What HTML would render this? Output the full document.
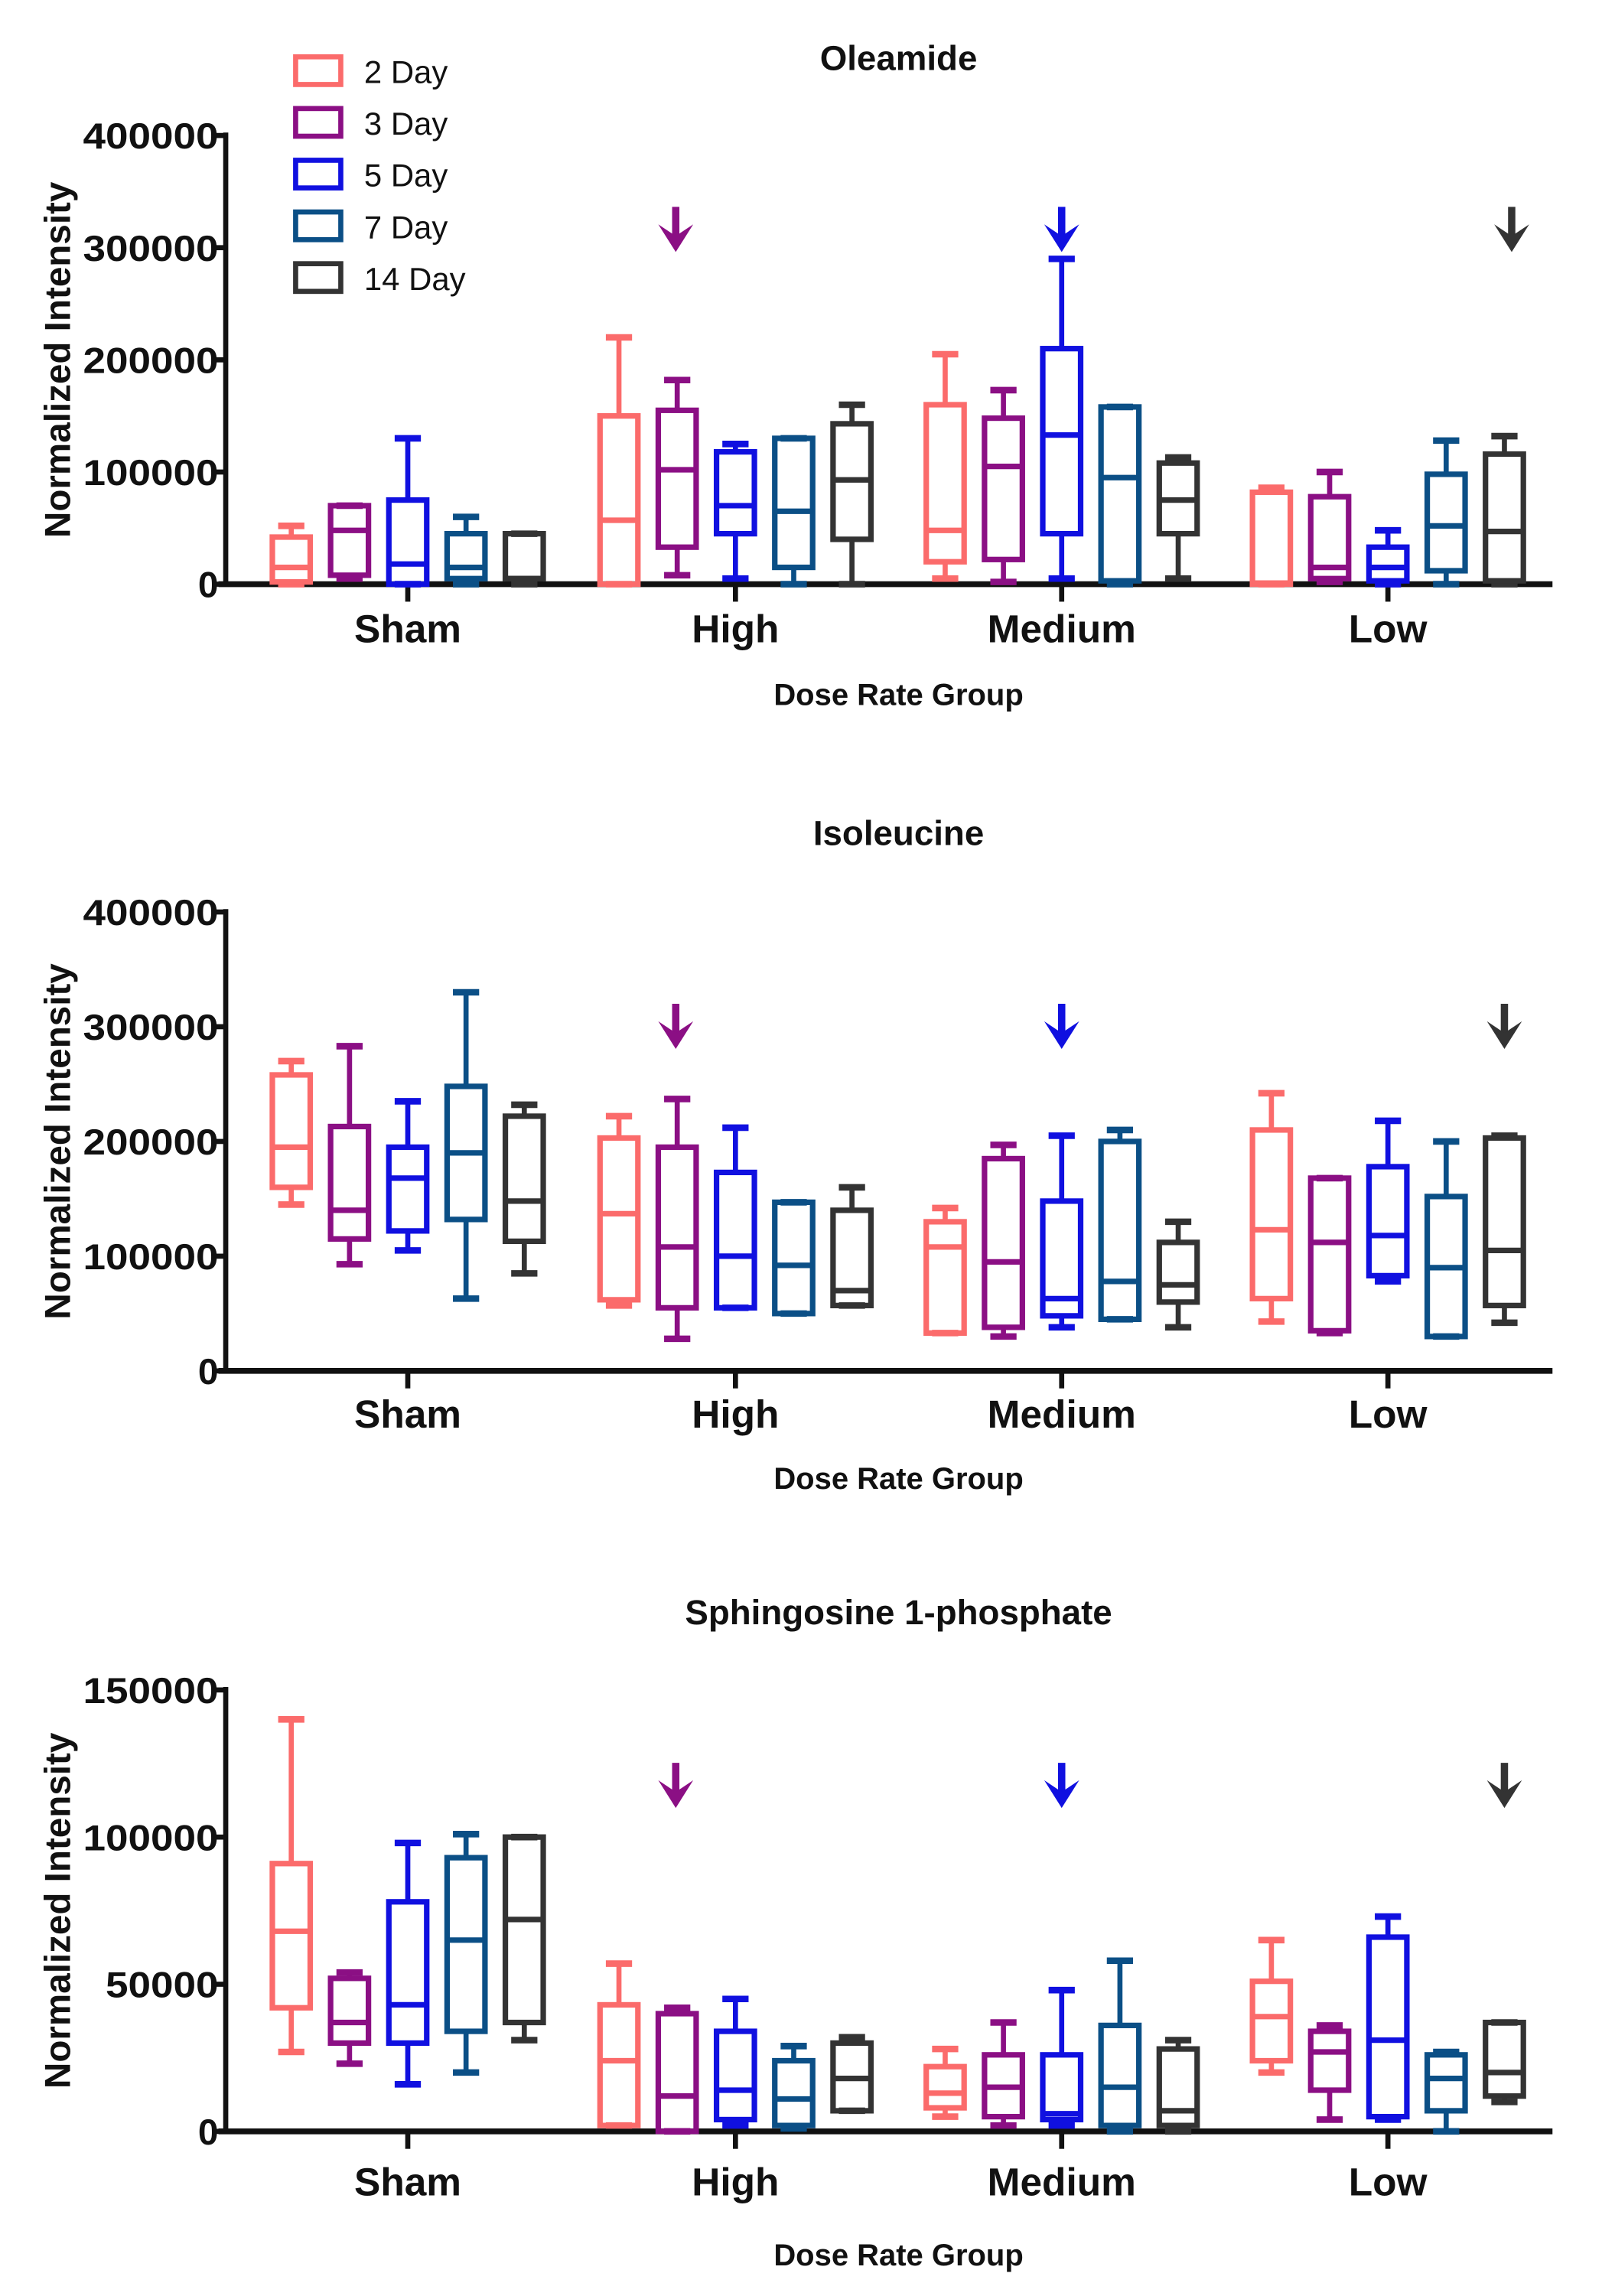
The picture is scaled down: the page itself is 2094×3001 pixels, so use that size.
<!DOCTYPE html>
<html><head><meta charset="utf-8"><style>
html,body{margin:0;padding:0;background:#fff;}
svg{display:block;}
text{font-family:"Liberation Sans",Arial,sans-serif;font-weight:bold;fill:#111;}
</style></head><body>
<svg id="s" width="2094" height="3001" viewBox="0 0 1100 1576" preserveAspectRatio="none" xmlns="http://www.w3.org/2000/svg"></svg>
<script>
var C=["#fb6b6b","#8b0f84","#1010e0","#0b4f86","#333333"];
var s=document.getElementById('s'),h='';
function L(x1,y1,x2,y2,c,w){h+='<line x1="'+x1+'" y1="'+y1+'" x2="'+x2+'" y2="'+y2+'" stroke="'+c+'" stroke-width="'+w+'"/>';}
function T(x,y,t,sz,anc,extra){h+='<text x="'+x+'" y="'+y+'" font-size="'+sz+'" text-anchor="'+(anc||'middle')+'" '+(extra||'')+'>'+t+'</text>';}
function arrow(x,y,c){L(x,y-16,x,y+6,c,5);h+='<polygon points="'+(x-12)+','+(y-4)+' '+x+','+(y+15)+' '+(x+12)+','+(y-4)+' '+x+','+(y+4)+'" fill="'+c+'"/>';}
var centers=[280,505,729,953],cats=["Sham","High","Medium","Low"];
function chart(o){
 var y0=o.y0,sc=o.sc;
 T(617,o.ty,o.title,24);
 L(155,o.ytop-2,155,y0+1,'#111',3.5);L(150,y0,1066,y0,'#111',4);
 o.ticks.forEach(function(t){var y=y0-t*sc;L(147,y,155,y,'#111',3.5);T(150,y+9,String(t),25,'end','textLength="'+(t===0?14:String(t).length*15.5)+'" lengthAdjust="spacingAndGlyphs"');});
 T(0,0,'Normalized Intensity',25,'middle','transform="translate('+48+','+((o.ytop+y0)/2)+') rotate(-90)"');
 centers.forEach(function(cx,g){L(cx,y0,cx,y0+12,'#111',3.5);T(cx,o.cy,cats[g],27);
  for(var k=0;k<5;k++){var d=o.data[g][k],x=cx+(k-2)*40,c=C[k],Y=function(v){return y0-v*sc;};
   L(x,Y(d[0]),x,Y(d[1]),c,3.5);L(x,Y(d[3]),x,Y(d[4]),c,3.5);
   L(x-9,Y(d[0]),x+9,Y(d[0]),c,4.5);L(x-9,Y(d[4]),x+9,Y(d[4]),c,4.5);
   h+='<rect x="'+(x-13)+'" y="'+Y(d[3])+'" width="26" height="'+Math.max(Y(d[1])-Y(d[3]),1)+'" fill="none" stroke="'+c+'" stroke-width="3.8"/>';
   L(x-13,Y(d[2]),x+13,Y(d[2]),c,3.8);}
 });
 T(617,o.xy,'Dose Rate Group',21);
 arrow(464,o.ay,C[1]);arrow(729,o.ay,C[2]);arrow(o.ax3,o.ay,C[4]);
}
chart({y0:401,sc:77/100000,ytop:93,ty:48,cy:441,xy:484,ay:158,ax3:1038,title:'Oleamide',ticks:[0,100000,200000,300000,400000],
data:[[[0,2e3,15e3,42e3,52e3],[5e3,8e3,48e3,70e3,70e3],[0,0,18e3,75e3,130e3],[0,5e3,15e3,45e3,60e3],[0,5e3,5e3,45e3,45e3]],
[[0,0,57e3,150e3,220e3],[8e3,33e3,102e3,155e3,182e3],[5e3,45e3,70e3,118e3,125e3],[0,15e3,65e3,130e3,130e3],[0,40e3,93e3,143e3,160e3]],
[[5e3,20e3,48e3,160e3,205e3],[2e3,22e3,105e3,148e3,173e3],[5e3,45e3,133e3,210e3,290e3],[0,3e3,95e3,158e3,158e3],[5e3,45e3,75e3,108e3,113e3]],
[[0,0,1e3,82e3,86e3],[2e3,5e3,15e3,78e3,100e3],[0,3e3,15e3,33e3,48e3],[0,12e3,52e3,98e3,128e3],[0,3e3,47e3,116e3,132e3]]]});
chart({y0:941,sc:78.75/100000,ytop:626,ty:580,cy:980,xy:1022,ay:705,ax3:1033,title:'Isoleucine',ticks:[0,100000,200000,300000,400000],
data:[[[145e3,160e3,195e3,258e3,270e3],[93e3,115e3,140e3,213e3,283e3],[105e3,122e3,168e3,195e3,235e3],[63e3,132e3,190e3,248e3,330e3],[85e3,113e3,148e3,222e3,232e3]],
[[57e3,62e3,137e3,203e3,222e3],[28e3,55e3,108e3,195e3,237e3],[55e3,55e3,100e3,173e3,212e3],[50e3,50e3,92e3,147e3,147e3],[57e3,57e3,70e3,140e3,160e3]],
[[33e3,33e3,108e3,130e3,142e3],[30e3,38e3,95e3,185e3,197e3],[38e3,48e3,63e3,148e3,205e3],[45e3,45e3,78e3,200e3,210e3],[38e3,60e3,75e3,112e3,130e3]],
[[43e3,63e3,123e3,210e3,242e3],[33e3,35e3,112e3,168e3,168e3],[78e3,83e3,118e3,178e3,218e3],[30e3,30e3,90e3,152e3,200e3],[42e3,57e3,105e3,203e3,205e3]]]});
chart({y0:1463,sc:202/100000,ytop:1160,ty:1115,cy:1507,xy:1555,ay:1226,ax3:1033,title:'Sphingosine 1-phosphate',ticks:[0,50000,100000,150000],
data:[[[27e3,42e3,68e3,91e3,140e3],[23e3,30e3,37e3,52e3,54e3],[16e3,30e3,43e3,78e3,98e3],[20e3,34e3,65e3,93e3,101e3],[31e3,37e3,72e3,100e3,100e3]],
[[2e3,2e3,24e3,43e3,57e3],[0,0,12e3,40e3,42e3],[2e3,4e3,14e3,34e3,45e3],[1e3,2e3,11e3,24e3,29e3],[7e3,7e3,18e3,30e3,32e3]],
[[5e3,8e3,13e3,22e3,28e3],[2e3,5e3,15e3,26e3,37e3],[2e3,4e3,6e3,26e3,48e3],[0,2e3,15e3,36e3,58e3],[0,2e3,7e3,28e3,31e3]],
[[20e3,24e3,39e3,51e3,65e3],[4e3,14e3,27e3,34e3,36e3],[4e3,5e3,31e3,66e3,73e3],[0,7e3,18e3,26e3,27e3],[10e3,12e3,20e3,37e3,37e3]]]});
var labs=["2 Day","3 Day","5 Day","7 Day","14 Day"];
for(var i=0;i<5;i++){var y=39+i*35.5;h+='<rect x="203" y="'+y+'" width="31" height="19" fill="none" stroke="'+C[i]+'" stroke-width="3.5"/>';
 h+='<text x="250" y="'+(y+18)+'" font-size="22" style="font-weight:normal">'+labs[i]+'</text>';}
s.innerHTML=h;
</script>
</body></html>
